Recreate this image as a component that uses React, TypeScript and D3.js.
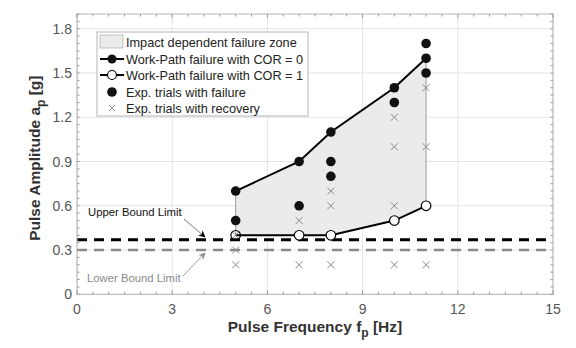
import React from "react";
import * as d3 from "d3";

const cor0X = [5, 7, 8, 10, 11];
const cor0Y = [0.7, 0.9, 1.1, 1.4, 1.6];
const cor1X = [5, 7, 8, 10, 11];
const cor1Y = [0.4, 0.4, 0.4, 0.5, 0.6];
const failX = [5, 5, 7, 7, 8, 8, 8, 10, 10, 11, 11, 11];
const failY = [0.5, 0.7, 0.6, 0.9, 0.8, 0.9, 1.1, 1.3, 1.4, 1.5, 1.6, 1.7];
const recX = [5, 5, 5, 7, 7, 8, 8, 8, 10, 10, 10, 10, 11, 11, 11];
const recY = [0.4, 0.3, 0.2, 0.5, 0.2, 0.7, 0.6, 0.2, 1.2, 1.0, 0.6, 0.2, 1.4, 1.0, 0.2];
const upperBound = 0.37;
const lowerBound = 0.3;
const xTicks = [0, 3, 6, 9, 12, 15];
const yTicks = [0, 0.3, 0.6, 0.9, 1.2, 1.5, 1.8];
const legendLabels = [
  "Impact dependent failure zone",
  "Work-Path failure with COR = 0",
  "Work-Path failure with COR = 1",
  "Exp. trials with failure",
  "Exp. trials with recovery",
];

export default function App() {
  const W = 576, H = 348;
  const x = d3.scaleLinear().domain([0, 15]).range([77, 553]);
  const y = d3.scaleLinear().domain([0, 1.9]).range([294.3, 14]);
  const x0 = x(0), x1 = x(15), y0 = y(0), y1 = y(1.9);
  const font = "'Liberation Sans', Arial, sans-serif";

  const upper = cor0X.map((d, i) => [d, cor0Y[i]] as [number, number]);
  const lower = cor1X.map((d, i) => [d, cor1Y[i]] as [number, number]);
  const zone = d3.area<[number, number]>()
    .x((d) => x(d[0]))
    .y0((_, i) => y(lower[i][1]))
    .y1((d) => y(d[1]));
  const line = d3.line<[number, number]>().x((d) => x(d[0])).y((d) => y(d[1]));

  const xMinor = d3.range(0, 15.001, 0.5);
  const yMinor = d3.range(0, 1.9001, 0.05);

  const cross = (cx: number, cy: number, s: number, key: string, col = "#8a8a8a") => (
    <path key={key} d={`M${cx - s},${cy - s}L${cx + s},${cy + s}M${cx - s},${cy + s}L${cx + s},${cy - s}`} stroke={col} strokeWidth={1} fill="none" />
  );

  const legY = [42, 59, 75, 92, 108];

  return (
    <svg width={W} height={H} style={{ position: "absolute", left: 0, top: 0, background: "#fff" }} fontFamily={font}>
      <defs>
        <marker id="ahb" viewBox="0 0 10 10" refX="9" refY="5" markerWidth="7" markerHeight="7" orient="auto-start-reverse" markerUnits="userSpaceOnUse">
          <path d="M0,0L10,5L0,10L3,5Z" fill="#000" />
        </marker>
        <marker id="ahg" viewBox="0 0 10 10" refX="9" refY="5" markerWidth="7" markerHeight="7" orient="auto-start-reverse" markerUnits="userSpaceOnUse">
          <path d="M0,0L10,5L0,10L3,5Z" fill="#8a8a8a" />
        </marker>
      </defs>
      {xTicks.map((t) => (
        <line key={"gx" + t} x1={x(t)} x2={x(t)} y1={y0} y2={y1} stroke="#e4e4e4" strokeWidth={1} />
      ))}
      {yTicks.map((t) => (
        <line key={"gy" + t} x1={x0} x2={x1} y1={y(t)} y2={y(t)} stroke="#e4e4e4" strokeWidth={1} />
      ))}
      <path d={zone(upper) || ""} fill="#ebebeb" stroke="none" />
      <line x1={x(5)} x2={x(5)} y1={y(cor1Y[0])} y2={y(cor0Y[0])} stroke="#9a9a9a" strokeWidth={1} />
      <line x1={x(11)} x2={x(11)} y1={y(cor1Y[4])} y2={y(cor0Y[4])} stroke="#9a9a9a" strokeWidth={1} />
      <line x1={x0} x2={x1} y1={y(upperBound)} y2={y(upperBound)} stroke="#000" strokeWidth={3} strokeDasharray="10,7" />
      <line x1={x0} x2={x1} y1={y(lowerBound)} y2={y(lowerBound)} stroke="#8a8a8a" strokeWidth={2.5} strokeDasharray="10,7" />
      <path d={line(upper) || ""} fill="none" stroke="#000" strokeWidth={2} />
      <path d={line(lower) || ""} fill="none" stroke="#000" strokeWidth={2} />
      {recX.map((d, i) => cross(x(d), y(recY[i]), 3.5, "r" + i))}
      {failX.map((d, i) => (
        <circle key={"f" + i} cx={x(d)} cy={y(failY[i])} r={4.8} fill="#111" />
      ))}
      {lower.map((d, i) => (
        <circle key={"o" + i} cx={x(d[0])} cy={y(d[1])} r={4.8} fill={i === 0 ? "none" : "#fff"} stroke="#000" strokeWidth={1.2} />
      ))}
      <rect x={x0} y={y1} width={x1 - x0} height={y0 - y1} fill="none" stroke="#b5b5b5" strokeWidth={1} />
      {xMinor.map((t, i) => (
        <g key={"xm" + i}>
          <line x1={x(t)} x2={x(t)} y1={y0} y2={y0 - (xTicks.includes(t) ? 4 : 2.5)} stroke="#999" />
          <line x1={x(t)} x2={x(t)} y1={y1} y2={y1 + (xTicks.includes(t) ? 4 : 2.5)} stroke="#999" />
        </g>
      ))}
      {yMinor.map((t, i) => (
        <g key={"ym" + i}>
          <line x1={x0} x2={x0 + 2.5} y1={y(t)} y2={y(t)} stroke="#999" />
          <line x1={x1} x2={x1 - 2.5} y1={y(t)} y2={y(t)} stroke="#999" />
        </g>
      ))}
      {xTicks.map((t) => (
        <text key={"tx" + t} x={x(t)} y={y0 + 20} textAnchor="middle" fontSize={14} fill="#555">{t}</text>
      ))}
      {yTicks.map((t) => (
        <text key={"ty" + t} x={x0 - 5} y={y(t) + 5} textAnchor="end" fontSize={14} fill="#555">{t === 0 ? "0" : t.toFixed(1)}</text>
      ))}
      <text x={315} y={332} textAnchor="middle" fontSize={15.5} fontWeight="bold" fill="#333">
        Pulse Frequency f<tspan dy={5} fontSize={12}>p</tspan><tspan dy={-5}> [Hz]</tspan>
      </text>
      <text transform={`translate(40,${(y0 + y1) / 2 + 4}) rotate(-90)`} textAnchor="middle" fontSize={15.5} fontWeight="bold" fill="#333">
        Pulse Amplitude a<tspan dy={5} fontSize={12}>p</tspan><tspan dy={-5}> [g]</tspan>
      </text>
      <text x={88} y={216} fontSize={11.3} fill="#111">Upper Bound Limit</text>
      <line x1={184} y1={219} x2={205} y2={237} stroke="#555" strokeWidth={0.8} markerEnd="url(#ahb)" />
      <text x={87} y={282} fontSize={11.3} fill="#8a8a8a">Lower Bound Limit</text>
      <line x1={183} y1={276} x2={205} y2={253} stroke="#8a8a8a" strokeWidth={0.8} markerEnd="url(#ahg)" />
      <rect x={97} y={32} width={211} height={84} fill="#fff" stroke="#b5b5b5" strokeWidth={1} />
      <rect x={100} y={35} width={23} height={13} fill="#ebebeb" stroke="#b5b5b5" strokeWidth={0.8} />
      <line x1={100} x2={124} y1={legY[1]} y2={legY[1]} stroke="#000" strokeWidth={2} />
      <circle cx={112} cy={legY[1]} r={4.5} fill="#111" />
      <line x1={100} x2={124} y1={legY[2]} y2={legY[2]} stroke="#000" strokeWidth={2} />
      <circle cx={112} cy={legY[2]} r={4.5} fill="#fff" stroke="#000" strokeWidth={1.2} />
      <circle cx={112} cy={legY[3]} r={4.8} fill="#111" />
      {cross(112, legY[4], 3, "lg")}
      {legendLabels.map((l, i) => (
        <text key={"l" + i} x={126} y={legY[i] + 4.5} fontSize={12.7} fill="#222">{l}</text>
      ))}
    </svg>
  );
}
